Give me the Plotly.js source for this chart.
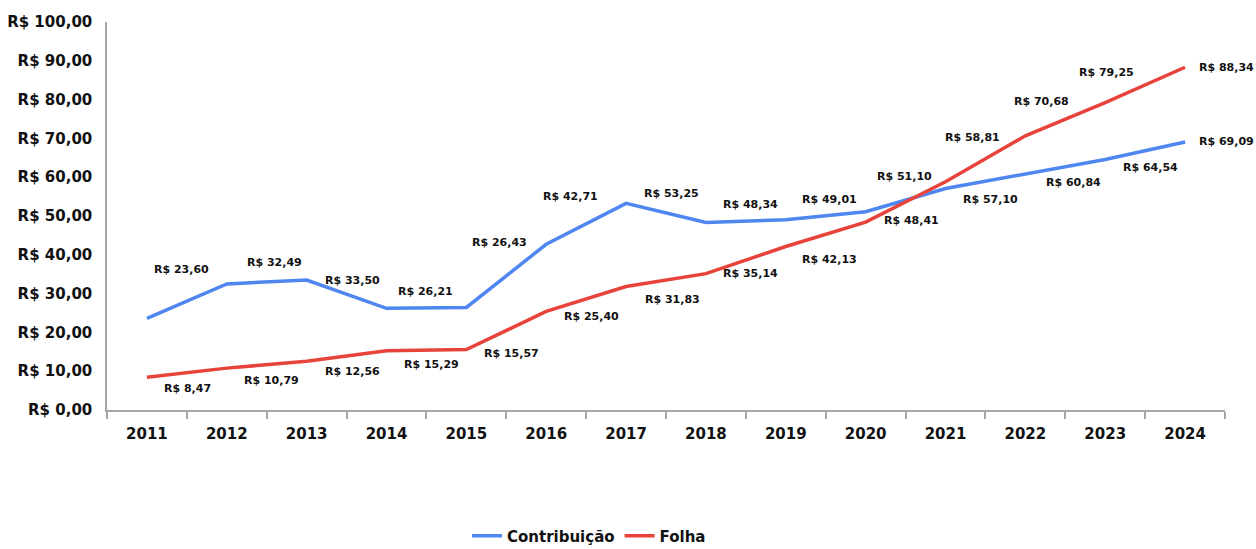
<!DOCTYPE html>
<html>
<head>
<meta charset="utf-8">
<script src="https://cdn.plot.ly/plotly-3.0.1.min.js"></script>
<style>html,body{margin:0;padding:0;background:#fff;}#chart{width:1256px;height:549px;}</style>
</head>
<body>
<div id="chart"></div>
<script>
const years = ["2011","2012","2013","2014","2015","2016","2017","2018","2019","2020","2021","2022","2023","2024"];
const contribuicao = [23.60, 32.49, 33.50, 26.21, 26.43, 42.71, 53.25, 48.34, 49.01, 51.10, 57.10, 60.84, 64.54, 69.09];
const folha = [8.47, 10.79, 12.56, 15.29, 15.57, 25.40, 31.83, 35.14, 42.13, 48.41, 58.81, 70.68, 79.25, 88.34];
const yTickVals = [0, 10, 20, 30, 40, 50, 60, 70, 80, 90, 100];

// label placement offsets (pixels, dx right / dy down) — style only
const contribOffsets = [[35,-49],[48,-21],[46,0],[39,-17],[33,-65],[24,-48],[45,-10],[45,-18],[44,-20],[39,-35],[45,11],[48,9],[45,8],[41,0]];
const folhaOffsets = [[41,11],[45,12],[46,10],[45,14],[45,4],[45,5],[46,13],[45,0],[44,13],[46,-2],[27,-44],[16,-34],[1,-30],[41,0]];

const FONT = "DejaVu Sans, Verdana, sans-serif";
const brl = v => "R$ " + v.toFixed(2).replace(".", ",");

const traces = [
  {x: years, y: contribuicao, name: "Contribuição", type: "scatter", mode: "lines",
   line: {color: "#4f86ef", width: 3.5}},
  {x: years, y: folha, name: "Folha", type: "scatter", mode: "lines",
   line: {color: "#e8433a", width: 3.5}}
];

const annotations = [];
function addLabels(vals, offs) {
  vals.forEach((v, i) => {
    annotations.push({x: i, y: v, xref: "x", yref: "y", text: brl(v), showarrow: false,
      xshift: offs[i][0], yshift: -offs[i][1], xanchor: "center", yanchor: "middle",
      font: {family: FONT, size: 11, color: "#111", weight: "bold"}});
  });
}
addLabels(contribuicao, contribOffsets);
addLabels(folha, folhaOffsets);

const layout = {
  width: 1256, height: 549,
  margin: {l: 107, r: 31, t: 22, b: 139, autoexpand: false},
  paper_bgcolor: "#fff", plot_bgcolor: "#fff",
  showlegend: true,
  legend: {orientation: "h", x: 0.322, xanchor: "left", y: -0.325, yanchor: "middle",
    font: {family: FONT, size: 15, color: "#111", weight: "bold"}, itemwidth: 30, tracegroupgap: 0},
  xaxis: {type: "category", range: [-0.5, 13.5], showgrid: false, zeroline: false,
    showline: true, linecolor: "#a6a6a6", linewidth: 1.5,
    ticks: "outside", tickson: "boundaries", ticklen: 7, tickcolor: "#a6a6a6", tickwidth: 1.5,
    ticklabelstandoff: 9,
    tickfont: {family: FONT, size: 15, color: "#111", weight: "bold"}},
  yaxis: {range: [0, 100], tickvals: yTickVals, ticktext: yTickVals.map(brl), showgrid: false, zeroline: false,
    showline: true, linecolor: "#a6a6a6", linewidth: 1.5, ticks: "", ticklabelstandoff: 10,
    tickfont: {family: FONT, size: 15, color: "#111", weight: "bold"}},
  annotations: annotations
};

Plotly.newPlot("chart", traces, layout, {displayModeBar: false, responsive: false});
</script>
</body>
</html>
